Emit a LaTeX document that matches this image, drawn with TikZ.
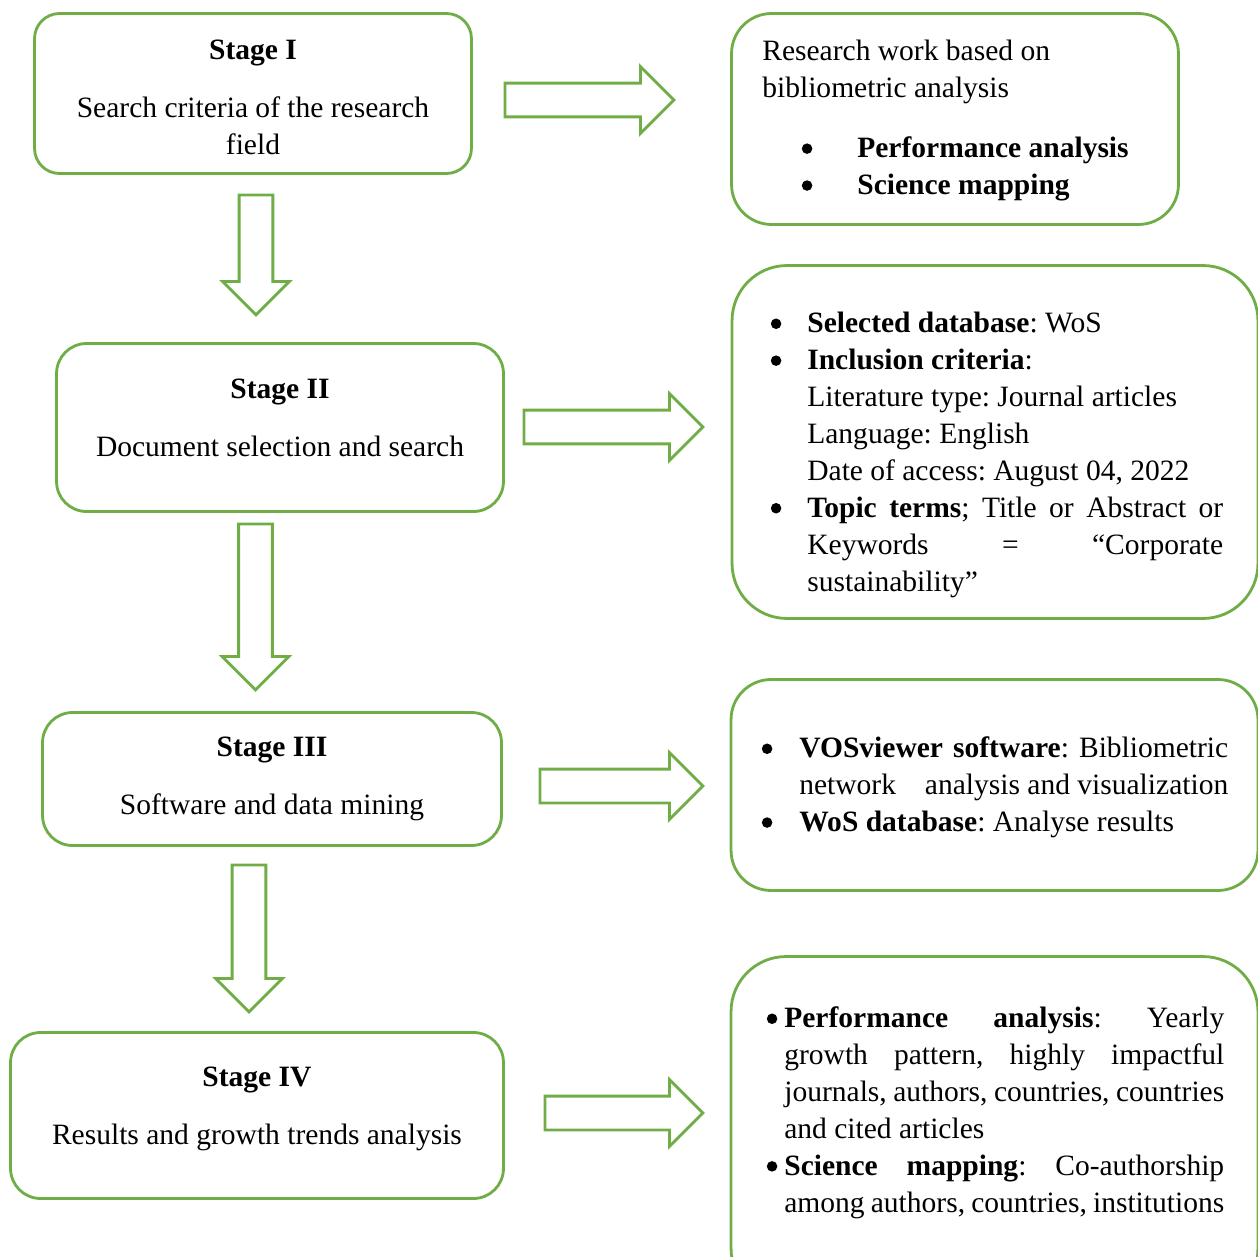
\documentclass[tikz,border=0pt]{standalone}
\usepackage{fontspec}
\setmainfont{Liberation Serif}
\usetikzlibrary{shapes.arrows, positioning}
\definecolor{stagegreen}{RGB}{112,173,71}
\setlength{\parindent}{0pt}
\frenchspacing
\tolerance=9999
\hbadness=10000
% round bullet and struts that move a text block inside its box
\newcommand{\boxbullet}{\tikz[baseline=0pt]\fill (0pt,5.2pt) circle (3pt);}
\newcommand{\lowstrut}{\rule[-0.4cm]{0pt}{0.4cm}}
\newcommand{\highstrut}{\rule{0pt}{0.56cm}}
% bullet list used inside the right hand boxes
\newenvironment{boxlist}[2]{\begin{list}{\boxbullet}{%
  \setlength{\leftmargin}{#1}\setlength{\labelsep}{#2}%
  \setlength{\labelwidth}{0.4cm}\setlength{\itemindent}{0pt}%
  \setlength{\itemsep}{0pt}\setlength{\parsep}{0pt}%
  \setlength{\topsep}{0pt}\setlength{\partopsep}{0pt}}}{\end{list}}
\tikzset{every node/.style={font=\fontsize{16.8}{21}\selectfont},
stagebox/.style={ % Boxes of the stages on the left
draw=stagegreen, line width=1.6pt,
rounded corners=0.6cm, align=center},
infobox/.style={ % Boxes on the right
draw=stagegreen, line width=1.6pt,
rounded corners=1.1cm},
infotext/.style={ % Text inside the right boxes
anchor=base west, inner sep=0pt, align=justify,
execute at begin node={\spaceskip=0pt\xspaceskip=0pt}},
flowarrow/.style={ % Hollow block arrows, placed by their tail
single arrow, draw=stagegreen, line width=1.6pt, anchor=tail,
inner sep=0.31cm, single arrow head extend=0.33cm}}

\begin{document}
\begin{tikzpicture}[x=0.02cm, y=-0.02cm]
    \useasboundingbox (0,0) rectangle (1258,1257);
    \clip (0,0) rectangle (1258,1257);

    % stages
    \node[stagebox, rounded corners=0.5cm, minimum width=8.74cm, minimum height=3.2cm] (stage1) at (253,93.5)
        {\highstrut\textbf{Stage I}\\[0.42cm]Search criteria of the research\\field};
    \node[stagebox, minimum width=8.94cm, minimum height=3.36cm] (stage2) at (280,427.5)
        {\textbf{Stage II}\\[0.42cm]Document selection and search\lowstrut};
    \node[stagebox, minimum width=9.18cm, minimum height=2.66cm] (stage3) at (272,779)
        {\textbf{Stage III}\\[0.42cm]Software and data mining};
    \node[stagebox, minimum width=9.86cm, minimum height=3.32cm] (stage4) at (257,1115.5)
        {\textbf{Stage IV}\\[0.42cm]Results and growth trends analysis\lowstrut};

    % boxes on the right
    \node[infobox, rounded corners=0.8cm, minimum width=8.94cm, minimum height=4.22cm] (info1) at (955,119) {};
    \node[infobox, minimum width=10.52cm, minimum height=7.06cm] (info2) at (995,442) {};
    \node[infobox, rounded corners=0.8cm, minimum width=10.54cm, minimum height=4.22cm] (info3) at (994.5,785) {};
    \node[infobox, minimum width=10.54cm, minimum height=6.94cm] (info4) at (994.5,1130) {};

    \node[infotext, text width=8.2cm] (text1) at (762,61)
        {Research work based on\newline bibliometric analysis\par\vspace{0.46cm}
        \begin{boxlist}{1.9cm}{0.9cm}
        \item \textbf{Performance analysis}
        \item \textbf{Science mapping}
        \end{boxlist}};
    \node[infotext, text width=9.26cm] (text2) at (760,296)
        {\begin{boxlist}{0.94cm}{0.52cm}
        \item \textbf{Selected database}: WoS
        \item \textbf{Inclusion criteria}:\newline Literature type: Journal articles\newline
        Language: English\newline Date of access: August 04, 2022
        \item \textbf{Topic terms}; Title or Abstract or\linebreak Keywords = “Corporate\linebreak sustainability”
        \end{boxlist}};
    \node[infotext, text width=9.52cm] (text3) at (752,721)
        {\begin{boxlist}{0.94cm}{0.54cm}
        \item \textbf{VOSviewer software}: Bibliometric\linebreak network\hfill analysis and visualization
        \item \textbf{WoS database}: Analyse results
        \end{boxlist}};
    \node[infotext, text width=9.28cm] (text4) at (760,991)
        {\begin{boxlist}{0.48cm}{0.14cm}
        \item \textbf{Performance analysis}: Yearly\linebreak growth pattern, highly impactful\linebreak
        journals, authors, countries, countries\linebreak and cited articles
        \item \textbf{Science mapping}: Co-authorship\linebreak among authors, countries, institutions
        \end{boxlist}};

    % arrows
    \node[flowarrow, minimum height=3.38cm] (arrow1) at (503.5,100) {};
    \node[flowarrow, minimum height=3.58cm] (arrow2) at (522.5,427) {};
    \node[flowarrow, minimum height=3.26cm] (arrow3) at (538.5,786) {};
    \node[flowarrow, minimum height=3.16cm] (arrow4) at (543.5,1113) {};
    \node[flowarrow, minimum height=2.4cm, rotate=-90] (down1) at (256,193.5) {};
    \node[flowarrow, minimum height=3.32cm, rotate=-90] (down2) at (255.5,522.5) {};
    \node[flowarrow, minimum height=2.94cm, rotate=-90] (down3) at (249,863.5) {};

\end{tikzpicture}
\end{document}
